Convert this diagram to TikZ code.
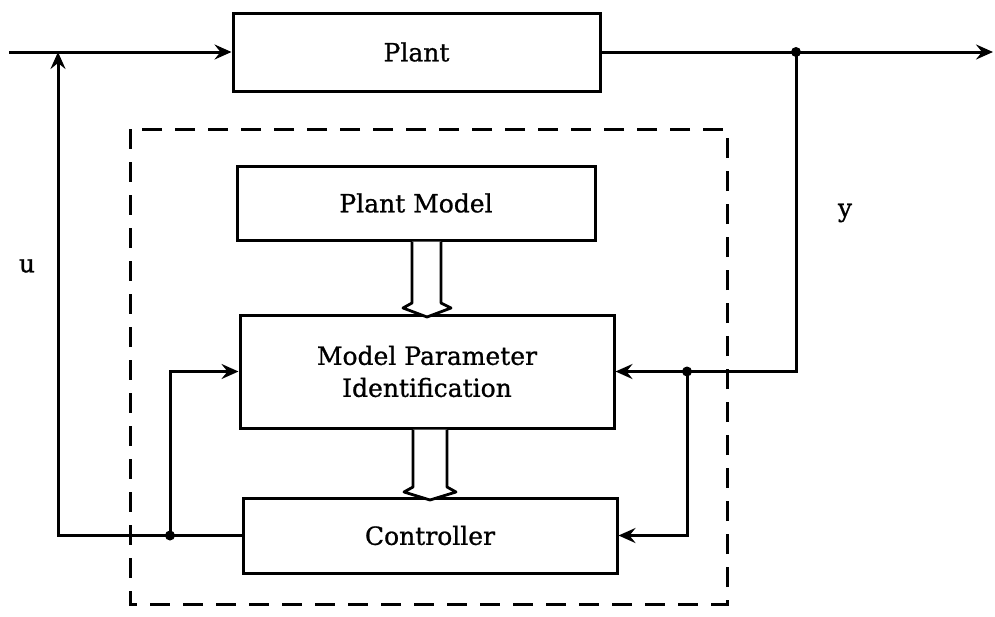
\documentclass[tikz,border=0pt]{standalone}
\usepackage{fontspec}
\setmainfont[FakeBold=0.9]{DejaVu Serif}
\usetikzlibrary{arrows.meta}
\begin{document}
\begin{tikzpicture}[x=1pt,y=-1pt,
  every path/.style={line width=3pt},
  block/.style={draw, rectangle, line width=3pt, inner sep=0pt, font=\fontsize{25}{32}\selectfont, align=center},
  lbl/.style={font=\fontsize{25}{32}\selectfont, inner sep=0pt},
  sig/.style={-{Stealth[length=17pt,width=15pt,inset=6pt]}},
  dot/.style={circle, fill, inner sep=0pt, minimum size=10pt},
  hollow/.style={line width=2.8pt, fill=white, line join=round},
  frame/.style={dash pattern=on 20pt off 13pt}]
\useasboundingbox (0,0) rectangle (995,616);

% blocks
\node[block, minimum width=367pt, minimum height=78pt] (plant) at (416.5,52) {Plant};
\node[block, minimum width=358pt, minimum height=74pt] (model) at (416,203) {Plant Model};
\node[block, minimum width=374pt, minimum height=113pt] (mpi) at (427,371.5) {Model Parameter\\Identification};
\node[block, minimum width=374pt, minimum height=75pt] (ctrl) at (430,535.5) {Controller};

% dashed boundary of the adaptive part
\draw[frame, line width=3pt] (130,129) rectangle (727,604);

% signal lines
\coordinate (in) at (9,52);
\coordinate (out) at (993,52);
\coordinate (jy) at (796,52);
\coordinate (jr) at (687,371.5);
\coordinate (jl) at (170,535.5);
\coordinate (ju) at (58,52);

\draw[sig] (in) -- (plant.west);
\draw[sig] (plant.east) -- (out);
\draw[sig] (jy) |- (mpi.east);
\draw[sig] (jr) |- (ctrl.east);
\draw (ctrl.west) -- (jl);
\draw[sig] (jl) -| (ju);
\draw[sig] (jl) |- (mpi.west);

\node[dot] (d1) at (jy) {};
\node[dot] (d2) at (jr) {};
\node[dot] (d3) at (jl) {};

% wide (hollow) arrows between blocks
\draw[hollow] (model.south -| 412,0) -- (412,303) -- (403,308) -- (427,317) -- (451,308) -- (441,303) -- (model.south -| 441,0);
\draw[hollow] (mpi.south -| 413,0) -- (413,487) -- (404,492) -- (430,500) -- (456,492) -- (447,487) -- (mpi.south -| 447,0);

% signal names
\node[lbl] (u) at (27,266) {u};
\node[lbl] (y) at (845,213) {y};
\end{tikzpicture}
\end{document}
